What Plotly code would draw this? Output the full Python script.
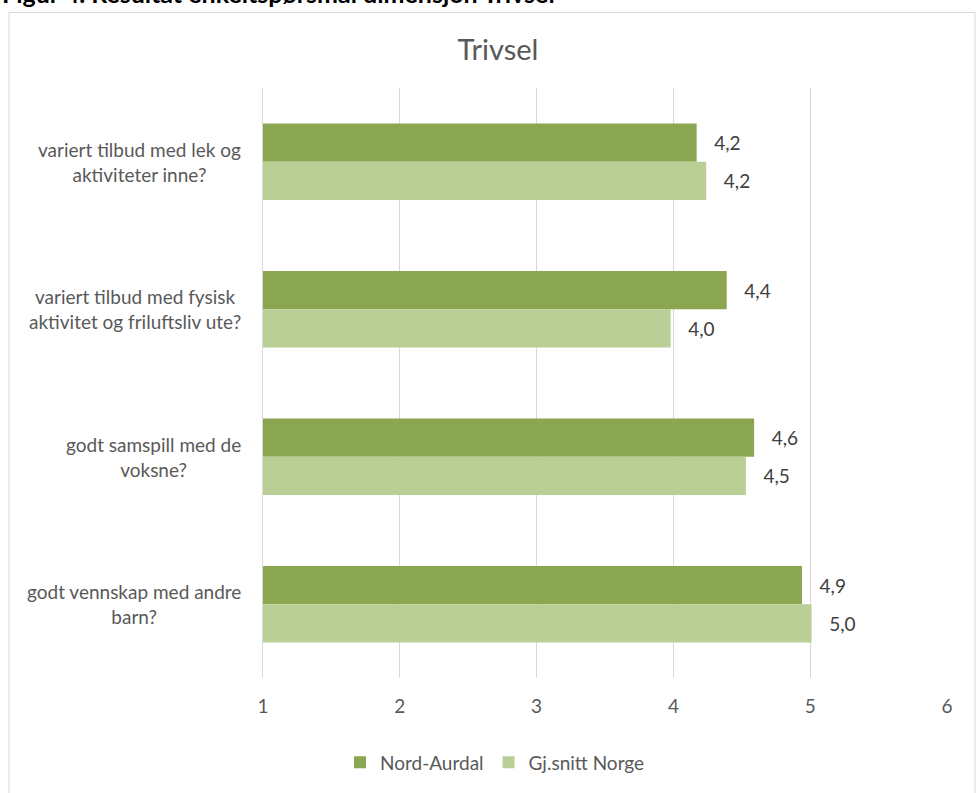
import plotly.graph_objects as go

categories = [
    "variert tilbud med lek og<br>aktiviteter inne?",
    "variert tilbud med fysisk<br>aktivitet og friluftsliv ute?",
    "godt samspill med de<br>voksne?",
    "godt vennskap med andre<br>barn?",
]
nord_aurdal = [4.17, 4.39, 4.59, 4.94]
gj_snitt_norge = [4.24, 3.98, 4.53, 5.01]
x_ticks = [1, 2, 3, 4, 5, 6]
series_names = ["Nord-Aurdal", "Gj.snitt Norge"]
colors = ["#8BA650", "#B9CF96"]

FONT = "Lato"
GRAY = "#595959"

fig = go.Figure()
for name, vals, col in zip(series_names, [nord_aurdal, gj_snitt_norge], colors):
    fig.add_trace(go.Bar(
        y=categories, x=vals, name=name, orientation="h",
        marker=dict(color=col, line=dict(width=0)),
        texttemplate="\u00a0\u00a0\u00a0%{x:.1f}", textposition="outside",
        textfont=dict(family=FONT, size=19, color="#404040"),
        cliponaxis=False,
    ))

L, R, T, B = 263, 29, 88, 111
W, H = 976, 793
pw, ph = W - L - R, H - T - B

def px_x(p):
    return (p - L) / pw

def px_y(p):
    return (H - B - p) / ph

annotations = []
for c in categories:
    annotations.append(dict(
        x=px_x(243), xref="paper", y=c, yref="y", text=c, showarrow=False,
        xanchor="right", yanchor="middle", align="center",
        font=dict(family=FONT, size=19, color=GRAY),
    ))
annotations.append(dict(
    x=px_x(0), xref="paper", y=px_y(9), yref="paper",
    text="<b>Figur 4. Resultat enkeltspørsmål dimensjon Trivsel</b>",
    showarrow=False, xanchor="left", yanchor="bottom",
    font=dict(family=FONT, size=25, color="#000000"),
))

fig.update_layout(
    width=W, height=H,
    margin=dict(l=L, r=R, t=T, b=B, pad=0),
    paper_bgcolor="white", plot_bgcolor="white",
    separators=", ",
    barmode="group", bargap=0.48, bargroupgap=0,
    title=dict(text="Trivsel", x=498 / W, xref="container", xanchor="center",
               y=1 - 50 / H, yref="container", yanchor="middle",
               font=dict(family=FONT, size=29, color=GRAY)),
    xaxis=dict(range=[1, 6], tickvals=x_ticks, showgrid=True, gridcolor="#D9D9D9",
               gridwidth=1, zeroline=False, showline=False, ticks="",
               ticklabelstandoff=15,
               tickfont=dict(family=FONT, size=19, color=GRAY)),
    yaxis=dict(autorange="reversed", showticklabels=False, showgrid=False,
               showline=True, linecolor="#D9D9D9", linewidth=1, ticks=""),
    legend=dict(orientation="h", x=px_x(495), xanchor="center",
                y=px_y(767), yanchor="middle",
                font=dict(family=FONT, size=19, color=GRAY),
                itemwidth=30, traceorder="normal"),
    annotations=annotations,
    shapes=[dict(type="rect", xref="paper", yref="paper",
                 x0=px_x(9), x1=px_x(975), y0=px_y(800), y1=px_y(12),
                 line=dict(color="#D9D9D9", width=1), layer="below")],
    showlegend=True,
)

fig.write_html("out.html")
